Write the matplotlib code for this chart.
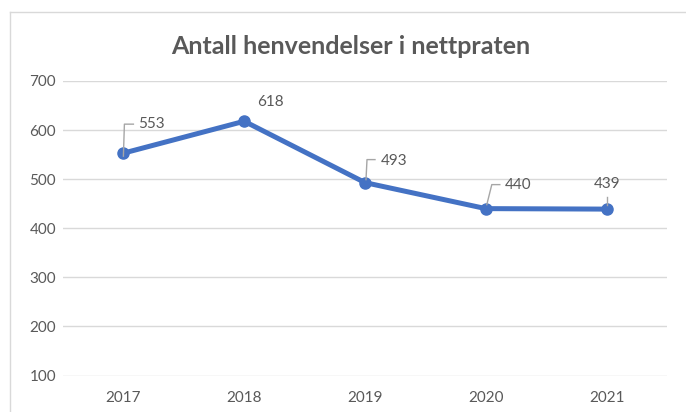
import matplotlib
matplotlib.use("Agg")
import matplotlib.pyplot as plt
from matplotlib.transforms import offset_copy
from matplotlib.lines import Line2D

years = ["2017", "2018", "2019", "2020", "2021"]
values = [553, 618, 493, 440, 439]
yticks = [100, 200, 300, 400, 500, 600, 700]
title = "Antall henvendelser i nettpraten"

# leader / label offsets in pixels (dx, dy) relative to each marker
leaders = [
    [(0, -3), (1, 29), (10, 29)],
    None,
    [(1, 3), (2, 23), (10, 23)],
    [(1, 4), (6, 24), (14, 24)],
    [(0, 4), (0, 12)],
]
label_offsets = [(15, 29, "left"), (13, 19, "left"), (16, 22, "left"), (19, 24, "left"), (0, 25, "center")]

plt.rcParams["font.family"] = ["Lato", "DejaVu Sans"]
txt = "#595959"
fig = plt.figure(figsize=(6.86, 4.12), dpi=100)
ax = fig.add_axes([63 / 686, 36.5 / 412, 604 / 686, 294.5 / 412])

x = list(range(len(years)))
ax.plot(x, values, color="#4472C4", lw=3.6, marker="o", ms=8, zorder=3,
        solid_capstyle="round")
ax.set_xlim(-0.5, len(years) - 0.5)
ax.set_ylim(min(yticks), max(yticks))
ax.set_yticks(yticks)
ax.set_xticks(x)
ax.set_xticklabels(years)
ax.grid(axis="y", color="#d9d9d9", lw=1)
ax.set_axisbelow(True)
for s in ax.spines.values():
    s.set_visible(False)
ax.tick_params(axis="both", length=0, colors=txt, labelsize=11)
ax.tick_params(axis="y", pad=5)
ax.tick_params(axis="x", pad=11)

for i, v in enumerate(values):
    lead = leaders[i]
    if lead:
        xs, ys = [], []
        for dx, dy in lead:
            tr = offset_copy(ax.transData, fig=fig, x=dx, y=dy, units="dots")
            p = tr.transform((i, v))
            xs.append(p[0]); ys.append(p[1])
        fig.add_artist(Line2D(xs, ys, transform=None, color="#a6a6a6", lw=1, zorder=2))
    dx, dy, ha = label_offsets[i]
    tr = offset_copy(ax.transData, fig=fig, x=dx, y=dy, units="dots")
    ax.text(i, v, str(v), transform=tr, ha=ha, va="center", color=txt, fontsize=11)

fig.text(351 / 686, 1 - 46 / 412, title, ha="center", va="center", fontsize=18,
         fontweight="bold", color=txt)

# chart border (top and left edges visible)
fig.add_artist(Line2D([9.5 / 686, 9.5 / 686], [0, 1 - 12 / 412], transform=fig.transFigure,
                      color="#d9d9d9", lw=1))
fig.add_artist(Line2D([9.5 / 686, 1], [1 - 12 / 412, 1 - 12 / 412], transform=fig.transFigure,
                      color="#d9d9d9", lw=1))

fig.savefig("out.png", dpi=100)
